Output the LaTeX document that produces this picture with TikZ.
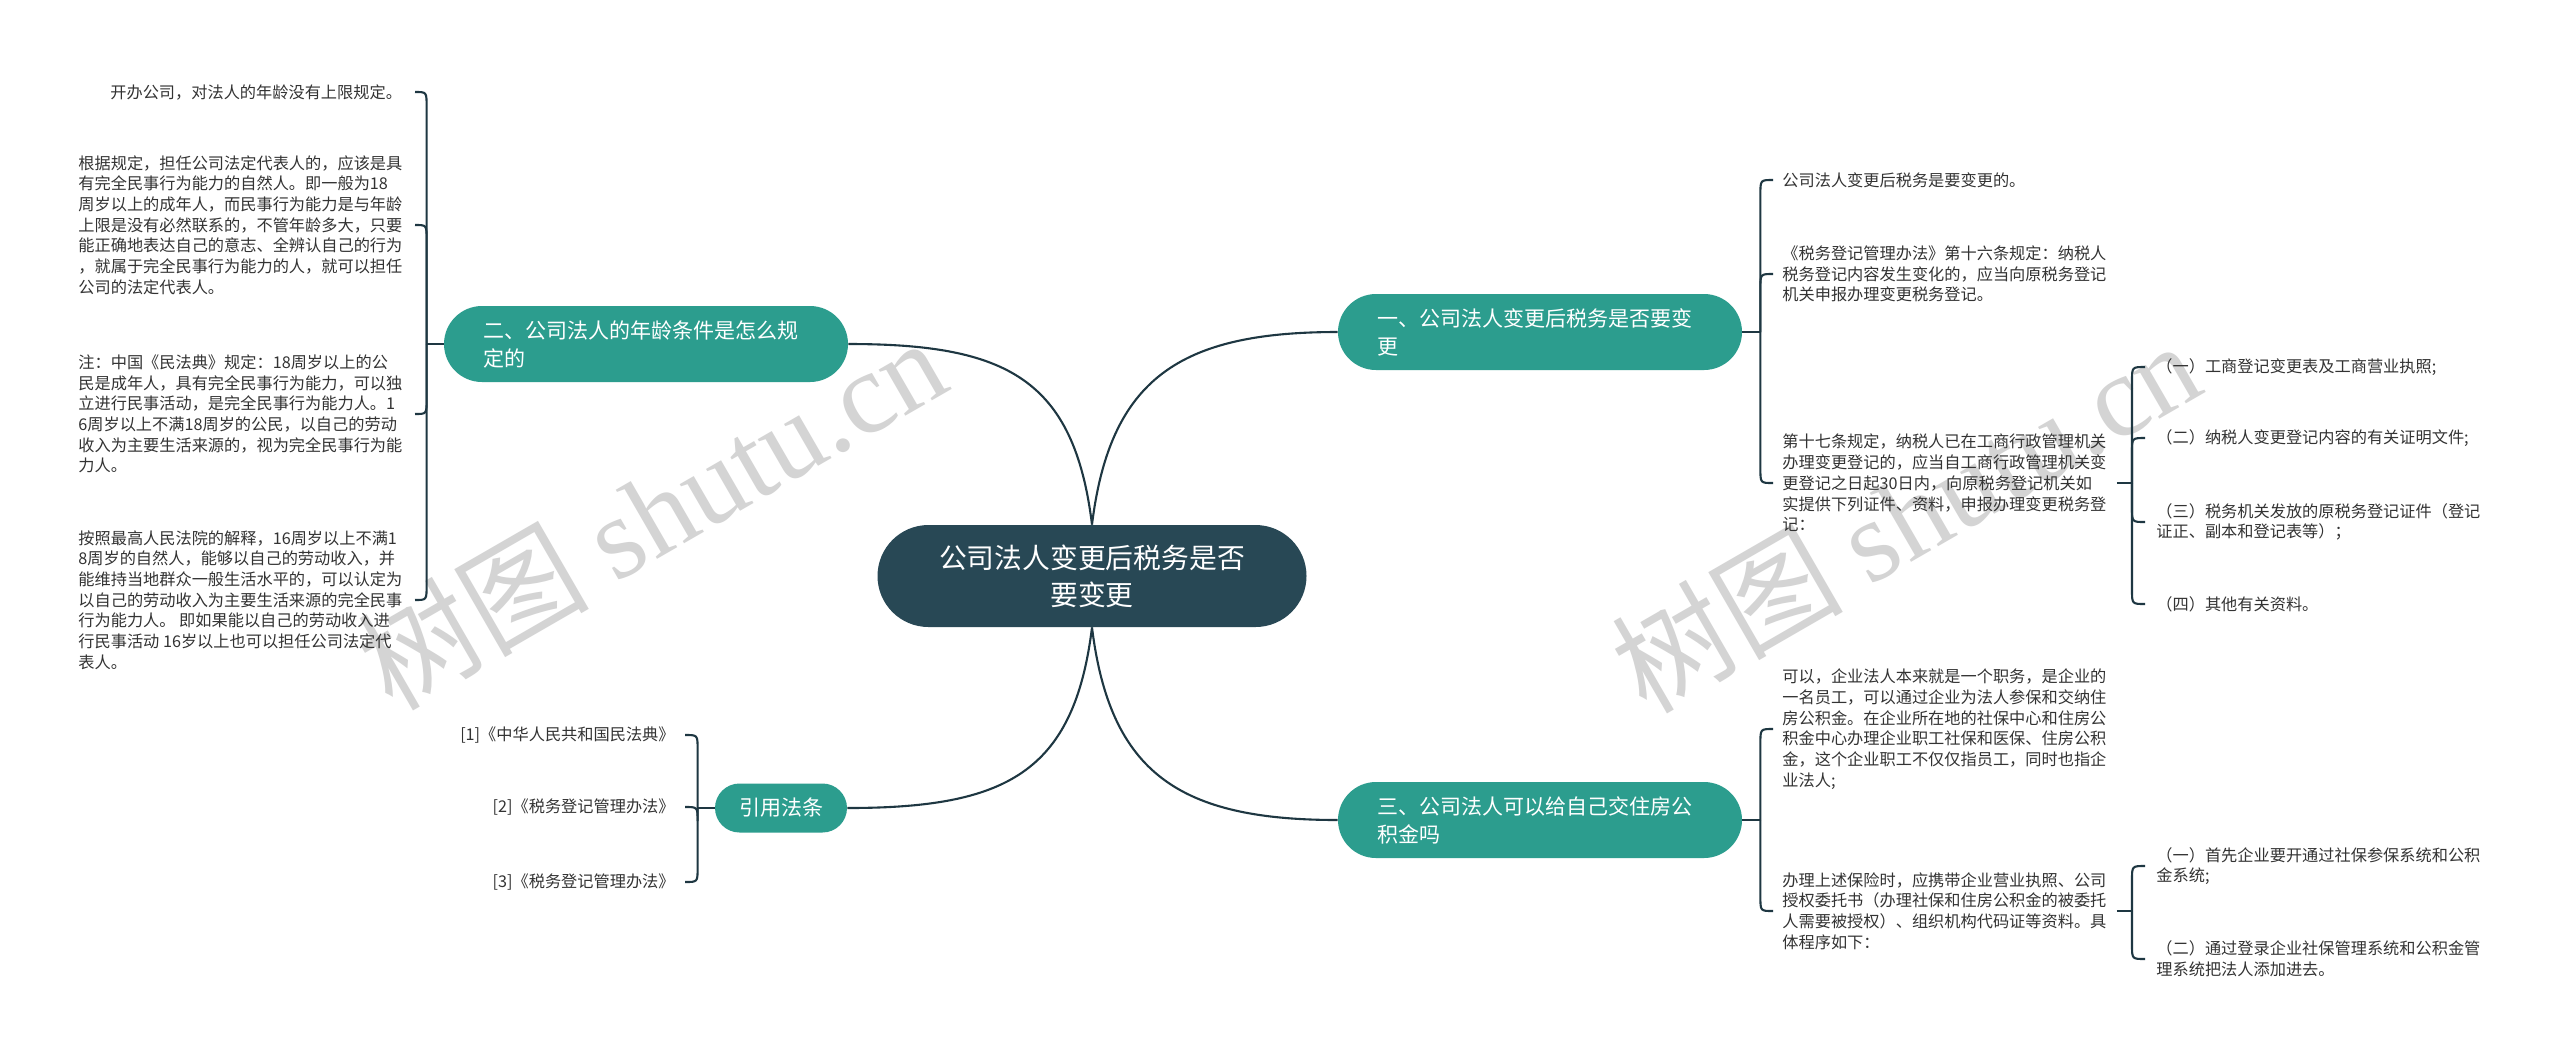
\documentclass[tikz,border=0pt]{standalone}
\usepackage{fontspec}
\setmainfont{Noto Sans CJK SC}
\newfontfamily\wmserif{Liberation Serif}
\usetikzlibrary{calc}
\definecolor{rootc}{RGB}{40,72,85}
\definecolor{brc}{RGB}{44,157,142}
\definecolor{linec}{RGB}{30,55,66}
\definecolor{txtc}{RGB}{51,51,51}
\definecolor{wmc}{RGB}{212,212,212}
\begin{document}
\begin{tikzpicture}[x=0.5pt,y=-0.5pt,
  leaf/.style={inner sep=0pt, align=left, text=txtc, font=\fontsize{8.1pt}{10.35pt}\selectfont},
  branch/.style={fill=brc, text=white, rounded corners=19pt, minimum height=38pt, text width=163pt, inner xsep=19.5pt, inner ysep=0pt, align=left, font=\fontsize{10.5pt}{14pt}\selectfont},
  smallbranch/.style={fill=brc, text=white, rounded corners=12.25pt, minimum height=24.5pt, minimum width=66pt, inner sep=0pt, align=center, font=\fontsize{10.5pt}{14pt}\selectfont},
  rootnode/.style={fill=rootc, text=white, rounded corners=25.5pt, minimum height=51pt, minimum width=214.5pt, inner sep=0pt, align=center, font=\fontsize{13.9pt}{18.5pt}\selectfont},
  conn/.style={draw=linec, line width=1.05pt},
  hook/.style={to path={let \p1=(\tikztostart), \p2=(\tikztotarget) in -- (\x1,{\y2+7*sign(\y1-\y2)}) .. controls (\x1,\y2) .. (\tikztotarget)}},
  wm/.style={text=wmc, rotate=30, inner sep=0pt, font=\fontsize{58pt}{58pt}\selectfont}
]
\fill[white] (0,0) rectangle (2560,1057);
\useasboundingbox (0,0) rectangle (2560,1057);

% watermarks (behind)
\node[wm] (W1) at (651,512) {树图 {\wmserif shutu.cn}};
\node[wm] (W2) at (1905,515) {树图 {\wmserif shutu.cn}};

% x-only reference coordinates
\coordinate (hL) at (415,0);
\coordinate (hR) at (1773,0);
\coordinate (hS) at (2145,0);
\coordinate (hV) at (685,0);
\coordinate (sx) at (2132,0);

% root and branches
\node[rootnode] (root) at (1092,576) {公司法人变更后税务是否\\要变更};
\node[branch] (B1) at (1540,332) {一、公司法人变更后税务是否要变\\更};
\node[branch] (B3) at (1540,820) {三、公司法人可以给自己交住房公\\积金吗};
\node[branch] (B2) at (646,344) {二、公司法人的年龄条件是怎么规\\定的};
\node[smallbranch] (B4) at (781,808) {引用法条};

\draw[conn] (root.north) .. controls +(18,-146) and +(-158,0) .. (B1.west);
\draw[conn] (root.north) .. controls +(-18,-146) and +(158,0) .. (B2.east);
\draw[conn] (root.south) .. controls +(18,146) and +(-158,0) .. (B3.west);
\draw[conn] (root.south) .. controls +(-18,146) and +(158,0) .. (B4.east);

% left texts (branch 2)
\node[leaf, anchor=west] (L1) at (110,92) {开办公司，对法人的年龄没有上限规定。};
\node[leaf, anchor=west] (L2) at (78,225) {根据规定，担任公司法定代表人的，应该是具\\有完全民事行为能力的自然人。即一般为18\\周岁以上的成年人，而民事行为能力是与年龄\\上限是没有必然联系的，不管年龄多大，只要\\能正确地表达自己的意志、全辨认自己的行为\\，就属于完全民事行为能力的人，就可以担任\\公司的法定代表人。};
\node[leaf, anchor=west] (L3) at (78,414) {注：中国《民法典》规定：18周岁以上的公\\民是成年人，具有完全民事行为能力，可以独\\立进行民事活动，是完全民事行为能力人。1\\6周岁以上不满18周岁的公民，以自己的劳动\\收入为主要生活来源的，视为完全民事行为能\\力人。};
\node[leaf, anchor=west] (L4) at (78,600) {按照最高人民法院的解释，16周岁以上不满1\\8周岁的自然人，能够以自己的劳动收入，并\\能维持当地群众一般生活水平的，可以认定为\\以自己的劳动收入为主要生活来源的完全民事\\行为能力人。 即如果能以自己的劳动收入进\\行民事活动 16岁以上也可以担任公司法定代\\表人。};

\coordinate (J2) at ([xshift=-8.5pt]B2.west);
\draw[conn] (B2.west) -- (J2);
\draw[conn] (J2) to[hook] (L1.east -| hL);
\draw[conn] (J2) to[hook] (L2.east -| hL);
\draw[conn] (J2) to[hook] (L3.east -| hL);
\draw[conn] (J2) to[hook] (L4.east -| hL);

% references (branch 4)
\node[leaf, anchor=east] (V1) at (675,735) {[1]《中华人民共和国民法典》};
\node[leaf, anchor=east] (V2) at (675,807) {[2]《税务登记管理办法》};
\node[leaf, anchor=east] (V3) at (675,882) {[3]《税务登记管理办法》};
\coordinate (J4) at ([xshift=-8.5pt]B4.west);
\draw[conn] (B4.west) -- (J4);
\draw[conn] (J4) to[hook] (V1.east -| hV);
\draw[conn] (J4) to[hook] (V2.east -| hV);
\draw[conn] (J4) to[hook] (V3.east -| hV);

% branch 1 children
\node[leaf, anchor=west] (R1) at (1782,180) {公司法人变更后税务是要变更的。};
\node[leaf, anchor=west] (R2) at (1782,274) {《税务登记管理办法》第十六条规定：纳税人\\税务登记内容发生变化的，应当向原税务登记\\机关申报办理变更税务登记。};
\node[leaf, anchor=west] (R3) at (1782,483) {第十七条规定，纳税人已在工商行政管理机关\\办理变更登记的，应当自工商行政管理机关变\\更登记之日起30日内，向原税务登记机关如\\实提供下列证件、资料，申报办理变更税务登\\记：};
\coordinate (J1) at ([xshift=9pt]B1.east);
\draw[conn] (B1.east) -- (J1);
\draw[conn] (J1) to[hook] (R1.west -| hR);
\draw[conn] (J1) to[hook] (R2.west -| hR);
\draw[conn] (J1) to[hook] (R3.west -| hR);

\node[leaf, anchor=west] (S1) at (2156,367) {（一）工商登记变更表及工商营业执照;};
\node[leaf, anchor=west] (S2) at (2156,438) {（二）纳税人变更登记内容的有关证明文件;};
\node[leaf, anchor=west] (S3) at (2156,522) {（三）税务机关发放的原税务登记证件（登记\\证正、副本和登记表等）；};
\node[leaf, anchor=west] (S4) at (2156,604) {（四）其他有关资料。};
\coordinate (JS) at (R3.east -| sx);
\draw[conn] ([xshift=5pt]R3.east) -- (JS);
\draw[conn] (JS) to[hook] (S1.west -| hS);
\draw[conn] (JS) to[hook] (S2.west -| hS);
\draw[conn] (JS) to[hook] (S3.west -| hS);
\draw[conn] (JS) to[hook] (S4.west -| hS);

% branch 3 children
\node[leaf, anchor=west] (T1) at (1782,729) {可以，企业法人本来就是一个职务，是企业的\\一名员工，可以通过企业为法人参保和交纳住\\房公积金。在企业所在地的社保中心和住房公\\积金中心办理企业职工社保和医保、住房公积\\金，这个企业职工不仅仅指员工，同时也指企\\业法人;};
\node[leaf, anchor=west] (T2) at (1782,911) {办理上述保险时，应携带企业营业执照、公司\\授权委托书（办理社保和住房公积金的被委托\\人需要被授权）、组织机构代码证等资料。具\\体程序如下：};
\coordinate (J3) at ([xshift=9pt]B3.east);
\draw[conn] (B3.east) -- (J3);
\draw[conn] (J3) to[hook] (T1.west -| hR);
\draw[conn] (J3) to[hook] (T2.west -| hR);

\node[leaf, anchor=west] (U1) at (2156,866) {（一）首先企业要开通过社保参保系统和公积\\金系统;};
\node[leaf, anchor=west] (U2) at (2156,959) {（二）通过登录企业社保管理系统和公积金管\\理系统把法人添加进去。};
\coordinate (JU) at (T2.east -| sx);
\draw[conn] ([xshift=5pt]T2.east) -- (JU);
\draw[conn] (JU) to[hook] (U1.west -| hS);
\draw[conn] (JU) to[hook] (U2.west -| hS);
\end{tikzpicture}
\end{document}
